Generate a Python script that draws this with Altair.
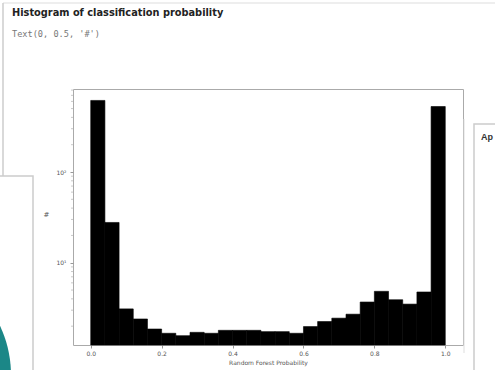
import altair as alt
import pandas as pd

# Histogram bins (left/right edges) of the random-forest probability
bin_start = [0.00, 0.04, 0.08, 0.12, 0.16, 0.20, 0.24, 0.28, 0.32, 0.36,
             0.40, 0.44, 0.48, 0.52, 0.56, 0.60, 0.64, 0.68, 0.72, 0.76,
             0.80, 0.84, 0.88, 0.92, 0.96]
bin_end = [0.04, 0.08, 0.12, 0.16, 0.20, 0.24, 0.28, 0.32, 0.36, 0.40,
           0.44, 0.48, 0.52, 0.56, 0.60, 0.64, 0.68, 0.72, 0.76, 0.80,
           0.84, 0.88, 0.92, 0.96, 1.00]
counts = [615, 27.8, 3.1, 2.4, 1.86, 1.67, 1.57, 1.71, 1.67, 1.8,
          1.8, 1.8, 1.74, 1.74, 1.67, 1.98, 2.25, 2.45, 2.71, 3.69,
          4.84, 3.91, 3.5, 4.76, 527]

x_ticks = [0.0, 0.2, 0.4, 0.6, 0.8, 1.0]
y_major = [10, 100]
y_minor = [2, 3, 4, 5, 6, 7, 8, 9, 20, 30, 40, 50, 60, 70, 80, 90, 200, 300, 400, 500, 600, 700, 800]

W, H = 390, 256
x_scale = alt.Scale(domain=[-0.05, 1.05], nice=False, zero=False)
y_scale = alt.Scale(type="log", domain=[1.24, 822], nice=False, clamp=True)

hist_df = pd.DataFrame({"start": bin_start, "end": bin_end, "count": counts})

bars = alt.Chart(hist_df).mark_rect(color="black", stroke="black", strokeWidth=0.6).encode(
    x=alt.X("start:Q", scale=x_scale,
            axis=alt.Axis(values=x_ticks, format=".1f", title="Random Forest Probability",
                          labelFontSize=6, labelColor="#555", titleFontSize=6,
                          titleFontWeight="normal", titleColor="#555", titlePadding=3,
                          tickSize=3, tickColor="#999", domain=False, grid=False,
                          labelPadding=2, labelFont="DejaVu Sans", titleFont="DejaVu Sans")),
    x2="end:Q",
    y=alt.Y("count:Q", scale=y_scale,
            axis=alt.Axis(values=y_major,
                          labelExpr="datum.value == 100 ? '10²' : '10¹'",
                          title="#", titleAngle=0, titleFontSize=7, titleFontWeight="normal",
                          titleColor="#555", titlePadding=10, labelFontSize=6, labelColor="#555",
                          tickSize=3, tickColor="#999", domain=False, grid=False,
                          labelPadding=4, labelFont="DejaVu Sans", titleFont="DejaVu Sans")),
    y2=alt.value(H),
)

# minor ticks of the log axis
minor_df = pd.DataFrame({"v": y_minor})
minor = alt.Chart(minor_df).mark_rule(color="#bbb", strokeWidth=0.8).encode(
    y=alt.Y("v:Q", scale=y_scale),
    x=alt.value(-2), x2=alt.value(0),
)

one = pd.DataFrame({"a": [0]})

# heading and printed return value of the notebook cell
title_text = alt.Chart(one).mark_text(
    text="Histogram of classification probability", fontSize=9.8, fontWeight="bold",
    color="#222", align="left", baseline="middle", font="DejaVu Sans",
).encode(x=alt.value(-61), y=alt.value(-76))
subtitle_text = alt.Chart(one).mark_text(
    text="Text(0, 0.5, '#')", fontSize=8.6, color="#777", align="left", baseline="middle",
    font="DejaVu Sans Mono",
).encode(x=alt.value(-61), y=alt.value(-55))

# surrounding notebook interface
top_line = alt.Chart(one).mark_rule(color="#ddd", strokeWidth=1).encode(
    x=alt.value(-70), x2=alt.value(430), y=alt.value(-86))
left_line = alt.Chart(one).mark_rule(color="#ccc", strokeWidth=1.5).encode(
    x=alt.value(-70), y=alt.value(-86), y2=alt.value(90))
out_line = alt.Chart(one).mark_rule(color="#ddd", strokeWidth=1).encode(
    x=alt.value(391), y=alt.value(30), y2=alt.value(264))

left_panel = alt.Chart(one).mark_rect(
    fill="white", stroke="#ccc", strokeWidth=1.5).encode(
    x=alt.value(-80), x2=alt.value(-40), y=alt.value(87), y2=alt.value(300))
# round avatar peeking in at the lower-left corner
teal = alt.Chart(one).mark_rect(
    color="#1b8787", opacity=1, cornerRadius=116).encode(
    x=alt.value(-294), x2=alt.value(-62), y=alt.value(170), y2=alt.value(402))

right_panel = alt.Chart(one).mark_rect(
    fill="white", stroke="#ccc", strokeWidth=1.5).encode(
    x=alt.value(401), x2=alt.value(440), y=alt.value(35), y2=alt.value(300))
right_text = alt.Chart(one).mark_text(
    text="Ap", fontSize=9, fontWeight="bold", color="#333", align="left", baseline="middle",
    font="Liberation Sans").encode(x=alt.value(408), y=alt.value(48))

chart = alt.layer(
    top_line, left_line, out_line, title_text, subtitle_text, bars, minor,
    left_panel, teal, right_panel, right_text
).properties(
    width=W, height=H,
    padding={"left": 73, "top": 89, "right": 32, "bottom": 25},
    autosize=alt.AutoSizeParams(type="none"),
    background="white",
).configure_view(stroke="#aaa", strokeWidth=1)

chart.save("out.html", embed_options={"renderer": "svg", "actions": False})
